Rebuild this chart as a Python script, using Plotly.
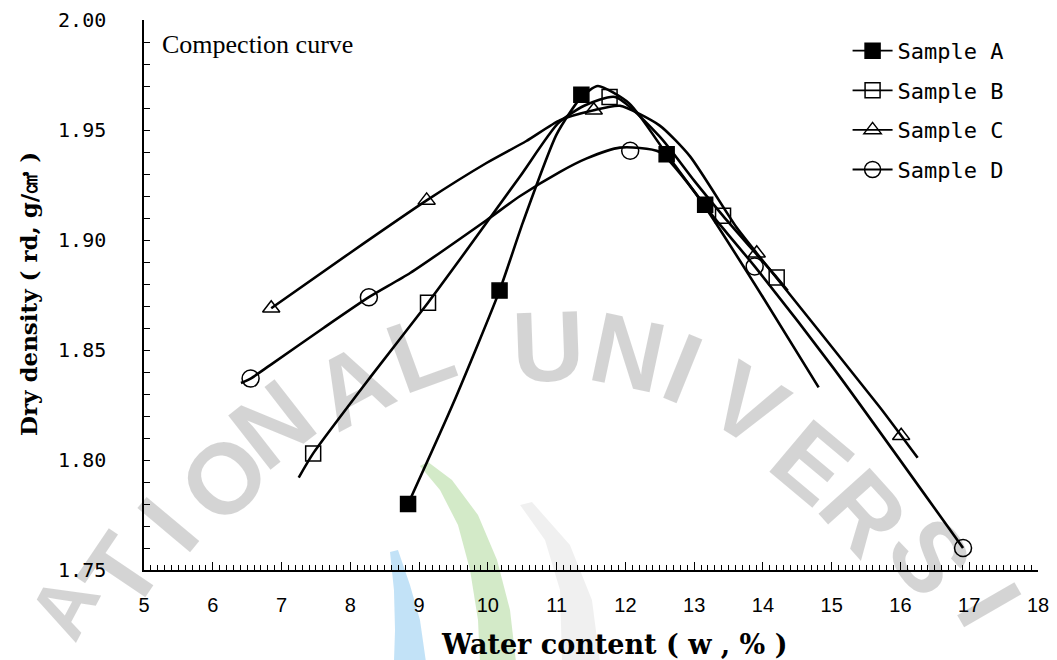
import plotly.graph_objects as go

# ---------------- data ----------------
sample_names = ["Sample A", "Sample B", "Sample C", "Sample D"]

# measured points: water content (%) and dry density (g/cm3)
a_w = [8.84, 10.17, 11.36, 12.60, 13.16]
a_d = [1.780, 1.877, 1.966, 1.939, 1.916]

b_w = [7.46, 9.13, 11.77, 13.42, 14.20]
b_d = [1.803, 1.8715, 1.965, 1.911, 1.883]

c_w = [6.85, 9.11, 11.54, 13.91, 16.01]
c_d = [1.869, 1.918, 1.959, 1.894, 1.811]

d_w = [6.55, 8.27, 12.07, 13.88, 16.91]
d_d = [1.837, 1.874, 1.9406, 1.888, 1.760]

# compaction (trend) curves as drawn in the picture
trend_a_w = [8.84, 9.50, 10.17, 10.51, 11.00, 11.36, 11.60, 12.06, 12.60, 13.16, 14.00, 14.81]
trend_a_d = [1.780, 1.826, 1.877, 1.908, 1.948, 1.965, 1.970, 1.962, 1.939, 1.915, 1.874, 1.833]

trend_b_w = [7.25, 7.46, 8.30, 9.13, 9.59, 10.47, 11.02, 11.40, 11.85, 12.50, 13.00, 13.42, 14.20, 14.36]
trend_b_d = [1.792, 1.803, 1.838, 1.8715, 1.891, 1.929, 1.953, 1.961, 1.965, 1.947, 1.927, 1.911, 1.883, 1.877]

trend_c_w = [6.85, 7.99, 9.11, 9.98, 10.56, 11.05, 11.54, 11.92, 12.50, 12.94, 13.61, 13.91, 15.70, 16.25]
trend_c_d = [1.869, 1.894, 1.918, 1.935, 1.945, 1.9545, 1.959, 1.961, 1.952, 1.938, 1.906, 1.894, 1.824, 1.801]

trend_d_w = [6.41, 6.55, 6.83, 7.61, 8.27, 8.87, 9.98, 10.47, 11.05, 11.43, 11.92, 12.50, 13.32, 13.88, 15.02, 16.91]
trend_d_d = [1.835, 1.837, 1.843, 1.860, 1.874, 1.885, 1.909, 1.920, 1.931, 1.937, 1.942, 1.940, 1.909, 1.888, 1.842, 1.760]

x_ticks = list(range(5, 19))
y_ticks = [1.75, 1.80, 1.85, 1.90, 1.95, 2.00]

# faint background watermark of the source document
watermark_letters = ["A", "T", "I", "O", "N", "A", "L", "U", "N", "I", "V", "E", "R", "S", "I"]

# ---------------- layout helpers (page pixels -> paper coords) ----------------
PLOT_L, PLOT_R, PLOT_T, PLOT_B = 144, 1038, 20, 570


def px(xp):
    return (xp - PLOT_L) / (PLOT_R - PLOT_L)


def py(yp):
    return 1 - (yp - PLOT_T) / (PLOT_B - PLOT_T)


wm_pos = [(64, 606), (120, 572), (168, 524), (224, 478), (272, 424), (352, 386), (420, 352),
          (548, 346), (628, 352), (683, 368), (748, 404), (812, 462), (864, 512), (930, 556), (990, 604)]
wm_rot = [-62, -56, -50, -45, -38, -28, -20, -2, 12, 22, 32, 40, 48, 55, 60]
wm_size = [80, 100, 100, 100, 100, 100, 100, 100, 100, 100, 100, 100, 100, 100, 96]

# ---------------- styling ----------------
points = [(a_w, a_d), (b_w, b_d), (c_w, c_d), (d_w, d_d)]
trends = [(trend_a_w, trend_a_d), (trend_b_w, trend_b_d), (trend_c_w, trend_c_d), (trend_d_w, trend_d_d)]
symbols = ["square", "square-open", "triangle-up-open", "circle-open"]
sizes = [15, 15, 15, 17]

fig = go.Figure()

for (tw, td) in trends:
    fig.add_trace(go.Scatter(
        x=tw, y=td, mode="lines", showlegend=False, hoverinfo="skip",
        line=dict(color="black", width=2.6, shape="spline", smoothing=0.6),
    ))

for (pw, pd_), sym, sz in zip(points, symbols, sizes):
    fig.add_trace(go.Scatter(
        x=pw, y=pd_, mode="markers", showlegend=False,
        marker=dict(symbol=sym, size=sz, color="black",
                    line=dict(color="black", width=1.5)),
    ))

# legend entries (line + marker)
for name, sym, sz in zip(sample_names, symbols, sizes):
    fig.add_trace(go.Scatter(
        x=[None], y=[None], mode="lines+markers", name=name, legendgroup=name,
        line=dict(color="black", width=1.8),
        marker=dict(symbol=sym, size=sz, color="black",
                    line=dict(color="black", width=1.5)),
    ))


def path(pts):
    s = "M {:.4f},{:.4f}".format(px(pts[0][0]), py(pts[0][1]))
    for (a, b) in pts[1:]:
        s += " L {:.4f},{:.4f}".format(px(a), py(b))
    return s + " Z"


swooshes = [
    ([(420, 466), (440, 490), (458, 525), (470, 570), (478, 620), (480, 662),
      (516, 662), (510, 610), (497, 560), (478, 515), (452, 480), (428, 462)],
     "rgba(140,200,110,0.38)"),
    ([(390, 552), (394, 590), (395, 630), (394, 662), (426, 662), (420, 620),
      (410, 585), (398, 550)],
     "rgba(110,185,235,0.42)"),
    ([(520, 505), (545, 540), (560, 590), (562, 662), (600, 662), (592, 600),
      (570, 545), (532, 502)],
     "rgba(0,0,0,0.06)"),
]

shapes = [dict(type="path", xref="paper", yref="paper", path=path(p), fillcolor=c,
               line=dict(width=0), layer="below") for p, c in swooshes]

annotations = [
    dict(text="<b>" + t + "</b>", xref="paper", yref="paper", x=px(a), y=py(b),
         xanchor="center", yanchor="middle", textangle=r, showarrow=False,
         font=dict(family="Liberation Sans", size=s, color="rgba(0,0,0,0.17)"))
    for t, (a, b), r, s in zip(watermark_letters, wm_pos, wm_rot, wm_size)
]

annotations += [
    dict(text="Compection curve", xref="paper", yref="paper", x=0.018, y=0.985,
         xanchor="left", yanchor="top", showarrow=False,
         font=dict(family="Liberation Serif", size=26, color="black")),
    dict(text="<b>Water content ( w , % )</b>", xref="paper", yref="paper",
         x=px(614), y=py(644), xanchor="center", yanchor="middle",
         showarrow=False, font=dict(family="DejaVu Serif", size=27, color="black")),
    dict(text="<b>Dry density ( rd, g/㎤ )</b>", xref="paper", yref="paper",
         x=px(28), y=py(294), xanchor="center", yanchor="middle",
         textangle=-90, showarrow=False,
         font=dict(family="DejaVu Serif", size=23, color="black")),
]

# the page body has an 8 px margin, so the figure starts at (8, 8) on the page
fig.update_layout(
    width=1049, height=652,
    margin=dict(l=136, r=19, t=12, b=90, autoexpand=False),
    paper_bgcolor="white", plot_bgcolor="rgba(0,0,0,0)",
    showlegend=True,
    legend=dict(
        x=0.787, y=0.982, xanchor="left", yanchor="top",
        font=dict(family="DejaVu Sans Mono", size=22, color="black"),
        bgcolor="rgba(0,0,0,0)", tracegroupgap=8, itemwidth=40,
    ),
    xaxis=dict(
        range=[5, 18], tickmode="array", tickvals=x_ticks, automargin=False,
        ticks="inside", ticklen=8, tickwidth=1.2, tickcolor="black",
        showline=True, linecolor="black", linewidth=1.5, mirror=False,
        showgrid=False, zeroline=False,
        tickfont=dict(family="Liberation Sans", size=20, color="black"),
        ticklabelstandoff=16,
        minor=dict(dtick=0.1, ticks="inside", ticklen=5, tickwidth=1, tickcolor="black", showgrid=False),
    ),
    yaxis=dict(
        range=[1.75, 2.00], tickmode="array", tickvals=y_ticks, tickformat=".2f", automargin=False,
        ticks="inside", ticklen=6, tickwidth=1.2, tickcolor="black",
        showline=True, linecolor="black", linewidth=1.5, mirror=False,
        showgrid=False, zeroline=False,
        tickfont=dict(family="DejaVu Sans Mono", size=20, color="black"),
        ticklabelstandoff=32,
        minor=dict(dtick=0.01, ticks="inside", ticklen=6, tickwidth=1, tickcolor="black", showgrid=False),
    ),
    shapes=shapes,
    annotations=annotations,
)

fig.write_html("out.html")
